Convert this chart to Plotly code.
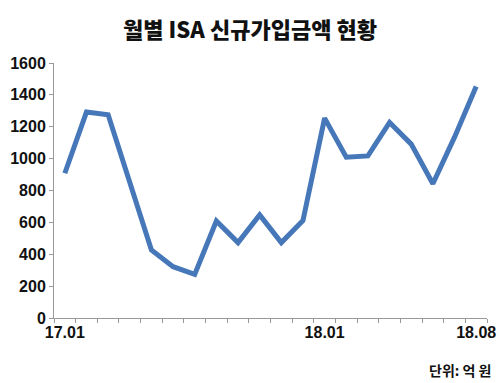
import plotly.graph_objects as go

months = ["17.01","17.02","17.03","17.04","17.05","17.06","17.07","17.08","17.09","17.10",
          "17.11","17.12","18.01","18.02","18.03","18.04","18.05","18.06","18.07","18.08"]
values = [908, 1292, 1275, 850, 427, 322, 274, 609, 473, 647,
          473, 611, 1254, 1009, 1017, 1227, 1091, 842, 1135, 1453]
shown_labels = {"17.01", "18.01", "18.08"}
tick_text = [m if m in shown_labels else "" for m in months]
y_ticks = [0, 200, 400, 600, 800, 1000, 1200, 1400, 1600]

tick_font = dict(family="Liberation Sans Narrow, Liberation Sans, Arial", size=16,
                 color="#111111", weight="bold")

fig = go.Figure()
fig.add_trace(go.Scatter(x=months, y=values, mode="lines",
                         line=dict(color="#4677b9", width=5), hoverinfo="skip"))

fig.update_layout(
    width=500, height=383,
    margin=dict(l=54, r=13, t=63, b=65, autoexpand=False),
    paper_bgcolor="white", plot_bgcolor="white",
    showlegend=False,
    title=dict(text="월별 ISA 신규가입금액 현황", x=0.5, xanchor="center",
               y=1 - 30/383, yanchor="middle",
               font=dict(family="Noto Sans CJK KR", size=22, color="#111111", weight=900)),
    xaxis=dict(type="category", tickmode="array", tickvals=months, ticktext=tick_text,
               tickson="boundaries", ticks="outside", ticklen=4, tickcolor="#999999",
               tickangle=0, automargin=False,
               showline=True, linecolor="#999999", linewidth=1, showgrid=False,
               tickfont=tick_font, range=[-0.5, 19.5], zeroline=False),
    yaxis=dict(range=[0, 1600], tickvals=y_ticks, ticks="outside", ticklen=4,
               automargin=False,
               tickcolor="#999999", showline=True, linecolor="#999999", linewidth=1,
               showgrid=False, zeroline=False, tickfont=tick_font),
)
fig.add_annotation(text="단위: 억 원", xref="paper", yref="paper",
                   x=1 + 6/433, xanchor="right", y=-(370-318)/255, yanchor="middle",
                   showarrow=False,
                   font=dict(family="Noto Sans CJK KR", size=14, color="#111111", weight="bold"))

fig.write_html("out.html")
